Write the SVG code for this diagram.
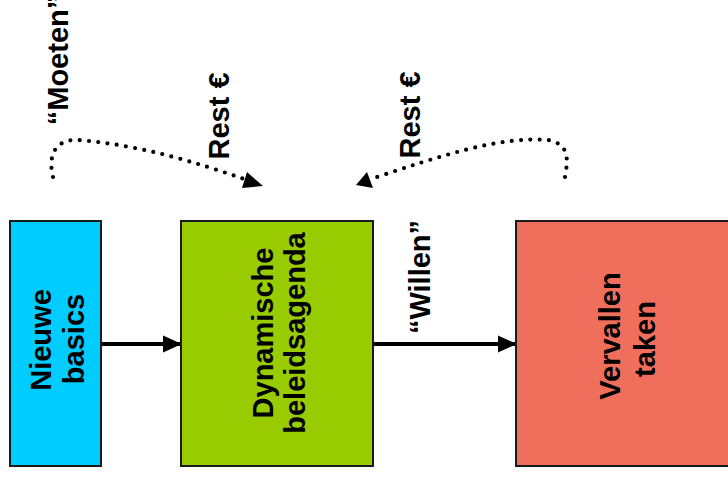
<svg xmlns="http://www.w3.org/2000/svg" width="728" height="483" viewBox="0 0 728 483">
  <defs>
    <style>
      .box { stroke: #1a1a1a; stroke-width: 2; }
      .lbl { font-family: "Liberation Sans", Arial, sans-serif; font-weight: bold; font-size: 29px; fill: #000; text-anchor: middle; }
      .flow { stroke: #000; stroke-width: 4; fill: none; }
      .dots { stroke: #000; stroke-width: 4.2; fill: none; stroke-linecap: round; stroke-dasharray: 0 9.3; }
      .head { fill: #000; }
    </style>
    <marker id="arrow" markerWidth="5" markerHeight="5" refX="4.6" refY="2.2" orient="auto" markerUnits="strokeWidth">
      <path d="M0,0 L4.8,2.2 L0,4.4 Z" fill="#000"/>
    </marker>
  </defs>

  <rect width="728" height="483" fill="#fff"/>

  <!-- connectors -->
  <g id="connectors">
    <line class="flow" x1="101" y1="344" x2="181" y2="344" marker-end="url(#arrow)"/>
    <line class="flow" x1="373" y1="344" x2="516" y2="344" marker-end="url(#arrow)"/>

    <!-- "Moeten" remainder flowing into the agenda -->
    <path class="dots" d="M53,177 C47,152 58,139 78,140 C140,145 195,162 244,179"/>
    <polygon class="head" points="263,186 242,188 247,172"/>

    <!-- "Willen" remainder flowing into the agenda -->
    <path class="dots" d="M565,177 C568,160 570,144 548,140 C500,136 440,156 374,178"/>
    <polygon class="head" points="356,185 367,172 373,188"/>

    <text class="lbl" transform="translate(68,60) rotate(-90)">“Moeten”</text>
    <text class="lbl" transform="translate(229,116) rotate(-90)">Rest €</text>
    <text class="lbl" transform="translate(420,115) rotate(-90)">Rest €</text>
    <text class="lbl" transform="translate(430,277) rotate(-90)">“Willen”</text>
  </g>

  <g id="nieuwe-basics">
    <rect class="box" x="10" y="221" width="91" height="245" fill="#00CCFF"/>
    <text class="lbl" transform="translate(51,340) rotate(-90)">Nieuwe</text>
    <text class="lbl" transform="translate(84,339) rotate(-90)">basics</text>
  </g>

  <g id="dynamische-beleidsagenda">
    <rect class="box" x="181" y="221" width="192" height="245" fill="#99CC00"/>
    <text class="lbl" transform="translate(273,333) rotate(-90)">Dynamische</text>
    <text class="lbl" transform="translate(305,333) rotate(-90)">beleidsagenda</text>
  </g>

  <g id="vervallen-taken">
    <rect class="box" x="516" y="221" width="220" height="245" fill="#F06F5C"/>
    <text class="lbl" transform="translate(620,336) rotate(-90)">Vervallen</text>
    <text class="lbl" transform="translate(655,339) rotate(-90)">taken</text>
  </g>
</svg>
